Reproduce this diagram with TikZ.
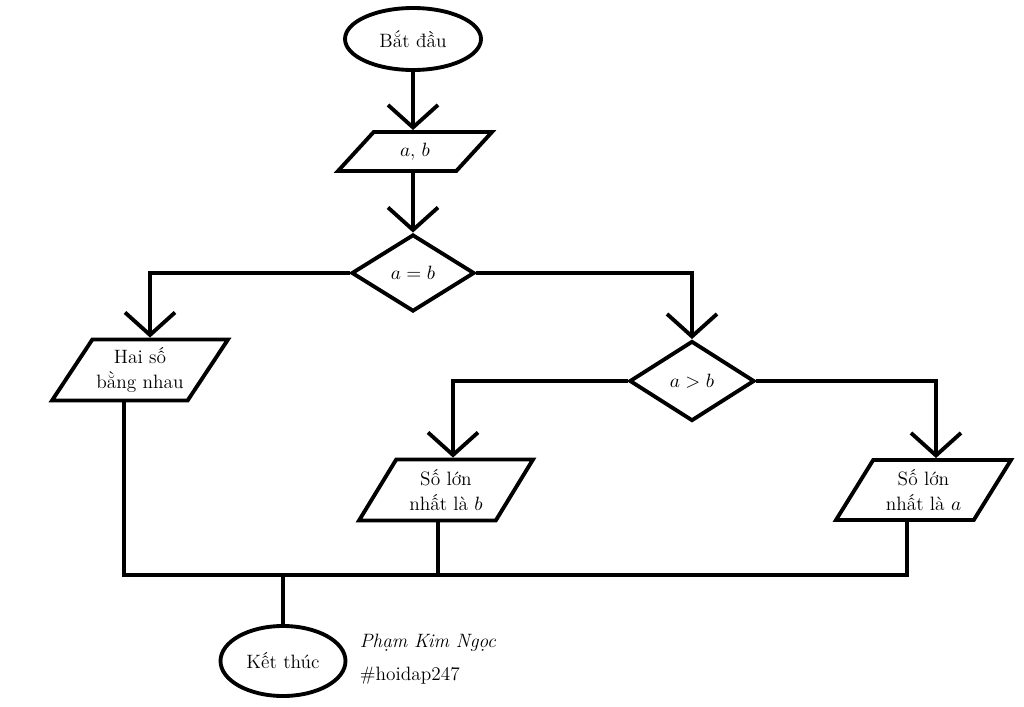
\documentclass[tikz,border=0pt]{standalone}
\usepackage{amsmath,amssymb}
\usepackage{tikz}
\usetikzlibrary{arrows.meta,shapes.geometric}

\begin{document}
\begin{tikzpicture}[
    line width=2.2pt,
    font=\fontsize{11}{14}\selectfont,
    oval/.style={ellipse,draw,inner sep=0pt},
    io/.style={trapezium,draw,trapezium left angle=50,trapezium right angle=130,
      trapezium stretches body,align=center,inner sep=1pt},
    test/.style={diamond,draw,inner sep=0pt},
    flow/.style={-{Straight Barb[length=4.5mm,width=10mm]}}
  ]
  \useasboundingbox (0,0) rectangle (20.48,-14.14);
  \node[oval,minimum width=2.72cm,minimum height=1.24cm] (start) at (8.26,-0.78) {Bắt đầu};
  \node[io,trapezium left angle=30,trapezium right angle=150,
    minimum width=3.08cm,minimum height=0.78cm] (input) at (8.30,-3.03) {$a$, $b$};
  \node[test,minimum width=2.46cm,minimum height=1.54cm] (d1) at (8.26,-5.46) {$a = b$};
  \node[io,minimum width=3.52cm,minimum height=1.22cm] (eq) at (2.80,-7.40) {Hai số\\bằng nhau};
  \node[test,minimum width=2.50cm,minimum height=1.60cm] (d2) at (13.84,-7.62) {$a > b$};
  \node[io,minimum width=3.48cm,minimum height=1.22cm] (lb) at (8.92,-9.80) {Số lớn\\nhất là $b$};
  \node[io,minimum width=3.50cm,minimum height=1.20cm] (la) at (18.47,-9.80) {Số lớn\\nhất là $a$};
  \node[oval,minimum width=2.50cm,minimum height=1.40cm] (stop) at (5.66,-13.22) {Kết thúc};
  \node[anchor=west] (author) at (7.04,-12.86) {\itshape Phạm Kim Ngọc};
  \node[anchor=west] (tag) at (7.04,-13.52) {\#hoidap247};
  \coordinate (join) at (5.66,-11.50);

  \draw[flow] (start) -- (start |- input.north);
  \draw[flow] (start |- input.south) -- (d1);
  \draw[flow] (d1.west) -| ([xshift=0.2cm]eq.north);
  \draw[flow] (d1.east) -| (d2.north);
  \draw[flow] (d2.west) -| ([xshift=0.14cm]lb.north);
  \draw[flow] (d2.east) -| ([xshift=0.25cm]la.north);
  \draw ([xshift=-0.32cm]eq.south) |- ([xshift=-0.33cm]la.south |- join)
    -- ([xshift=-0.33cm]la.south);
  \draw ([xshift=-0.16cm]lb.south) -- ([xshift=-0.16cm]lb.south |- join);
  \draw (join) -- (stop);
\end{tikzpicture}
\end{document}
